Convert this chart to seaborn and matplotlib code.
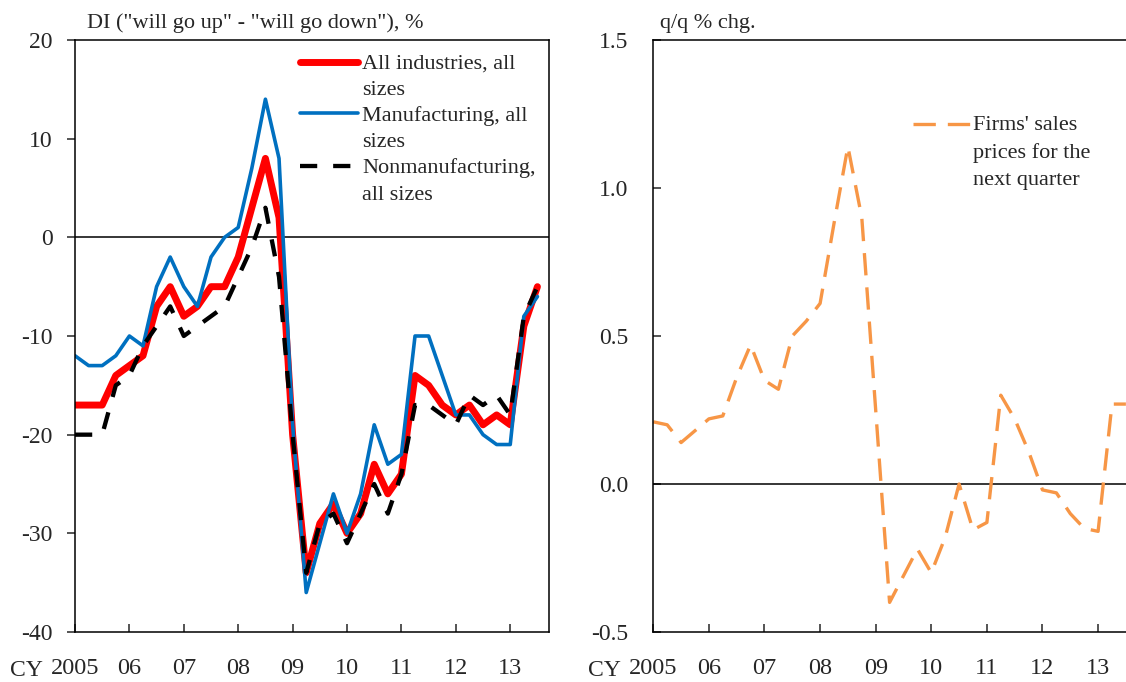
import numpy as np
import pandas as pd
import seaborn as sns
import matplotlib.pyplot as plt

# quarterly, 2005Q1 .. 2013Q3
quarters = np.arange(35)
year_ticks = [0, 4, 8, 12, 16, 20, 24, 28, 32]
year_labels = ["2005", "06", "07", "08", "09", "10", "11", "12", "13"]

all_industries = [-17, -17, -17, -14, -13, -12, -7, -5, -8, -7, -5, -5, -2, 3, 8, 2, -20,
                  -34, -29, -27, -30, -28, -23, -26, -24, -14, -15, -17, -18, -17, -19, -18,
                  -19, -9, -5]
manufacturing = [-12, -13, -13, -12, -10, -11, -5, -2, -5, -7, -2, 0, 1, 7, 14, 8, -19,
                 -36, -31, -26, -30, -26, -19, -23, -22, -10, -10, -14, -18, -18, -20, -21,
                 -21, -8, -6]
nonmanufacturing = [-20, -20, -20, -15, -14, -11, -9, -7, -10, -9, -8, -7, -4, -1, 3, -4, -20,
                    -34, -29, -28, -31, -28, -25, -28, -24, -17, -17, -18, -19, -16, -17, -16,
                    -18, -8, -5]
sales_prices = [0.21, 0.20, 0.14, 0.18, 0.22, 0.23, 0.36, 0.47, 0.35, 0.32, 0.50, 0.55,
                0.61, 0.88, 1.14, 0.90, 0.25, -0.40, -0.31, -0.22, -0.30, -0.18, 0.0, -0.155,
                -0.13, 0.30, 0.22, 0.11, -0.02, -0.03, -0.10, -0.15, -0.16, 0.27, 0.27]

di_ticks = [-40, -30, -20, -10, 0, 10, 20]
pct_ticks = [-0.5, 0.0, 0.5, 1.0, 1.5]

di = pd.DataFrame({"q": quarters, "all": all_industries,
                   "manu": manufacturing, "nonmanu": nonmanufacturing})
sp = pd.DataFrame({"q": quarters, "sales": sales_prices})

sns.set_style("ticks")
plt.rcParams['font.family'] = ['Liberation Serif', 'DejaVu Serif']
plt.rcParams['axes.linewidth'] = 1.1

W, H = 1126, 682
fig = plt.figure(figsize=(W / 100, H / 100), dpi=100)
ax1 = fig.add_axes([75 / W, 50 / H, 474 / W, 592 / H])
ax2 = fig.add_axes([653.3 / W, 50 / H, 484.4 / W, 592 / H])

# left panel: DI
ax1.axhline(0, color="black", lw=1.1, zorder=1)
sns.lineplot(data=di, x="q", y="all", ax=ax1, color="#FF0000", lw=5,
             label="All industries, all\nsizes")
sns.lineplot(data=di, x="q", y="manu", ax=ax1, color="#0070C0", lw=2.6,
             label="Manufacturing, all\nsizes")
sns.lineplot(data=di, x="q", y="nonmanu", ax=ax1, color="black", lw=3.1,
             linestyle=(0, (4, 3.7)), label="Nonmanufacturing,\nall sizes")

ax1.set_ylim(-40, 20)
ax1.set_yticks(di_ticks)
ax1.set_yticklabels([str(t) for t in di_ticks])
ax1.tick_params(axis="y", direction="out", length=6, width=1.1, labelsize=17, pad=10)

# right panel: sales prices
ax2.axhline(0, color="black", lw=1.1, zorder=1)
sns.lineplot(data=sp, x="q", y="sales", ax=ax2, color="#F79646", lw=2.4,
             linestyle=(0, (6.7, 3.6)), label="Firms' sales\nprices for the\nnext quarter")

ax2.set_ylim(-0.5, 1.5)
ax2.set_yticks(pct_ticks)
ax2.set_yticklabels([f"{t:.1f}" for t in pct_ticks])
ax2.tick_params(axis="y", direction="in", length=6, width=1.1, labelsize=17, pad=18)

for ax in (ax1, ax2):
    ax.set_xlim(0, 34.85)
    ax.set_xticks(year_ticks)
    ax.set_xticklabels(year_labels)
    ax.tick_params(axis="x", direction="in", length=6, width=1.1, labelsize=17.5, pad=18.5)
    ax.set_xlabel("")
    ax.set_ylabel("")
    for s in ax.spines.values():
        s.set_visible(True)
        s.set_color("black")

ax1.text(0.025, 1.0198, 'DI ("will go up" - "will go down"), %', transform=ax1.transAxes,
         fontsize=16, va="baseline", ha="left")
ax2.text(0.014, 1.0198, "q/q % chg.", transform=ax2.transAxes,
         fontsize=16, va="baseline", ha="left")
fig.text(10 / W, 6 / H, "CY", fontsize=17, va="baseline", ha="left")
fig.text(588 / W, 6 / H, "CY", fontsize=17, va="baseline", ha="left")


def style_legend(leg):
    for t in leg.get_texts():
        t.set_linespacing(1.55)
    # put the handle next to the first line of each label
    for col in leg._legend_handle_box.get_children():
        for item in col.get_children():
            item.align = "top"


leg1 = ax1.legend(loc="upper left", bbox_to_anchor=(0.4747, 0.976), frameon=False,
                  fontsize=16, handlelength=2.6, handletextpad=0.2, borderpad=0,
                  borderaxespad=0, labelspacing=0.26)
style_legend(leg1)
leg2 = ax2.legend(loc="upper left", bbox_to_anchor=(0.536, 0.872), frameon=False,
                  fontsize=16, handlelength=2.6, handletextpad=0.1, borderpad=0,
                  borderaxespad=0)
style_legend(leg2)

fig.savefig("out.png", dpi=100)
